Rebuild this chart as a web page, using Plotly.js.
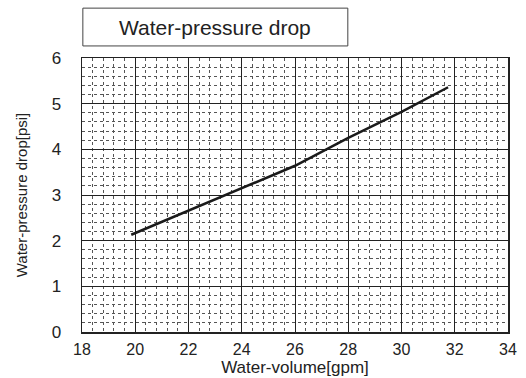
<!DOCTYPE html>
<html>
<head>
<meta charset="utf-8">
<script src="https://cdn.plot.ly/plotly-3.0.1.min.js"></script>
<style>html,body{margin:0;padding:0;background:#fff;}#chart{width:526px;height:378px;}</style>
</head>
<body>
<div id="chart"></div>
<script>
const waterVolume = [19.85, 22, 24, 26, 28, 30, 31.75];
const pressureDrop = [2.13, 2.66, 3.15, 3.64, 4.25, 4.82, 5.36];
const chartTitle = "Water-pressure drop";
const xTitle = "Water-volume[gpm]";
const yTitle = "Water-pressure drop[psi]";

const font = "Arial, 'Liberation Sans', sans-serif";

const trace = {
  x: waterVolume, y: pressureDrop, type: 'scatter', mode: 'lines',
  line: {color: '#1a1a1a', width: 2.5}, hoverinfo: 'skip', showlegend: false
};

const axisCommon = {
  showline: true, linecolor: '#222', linewidth: 1.5, mirror: true,
  showgrid: true, gridcolor: '#222', gridwidth: 1,
  zeroline: false, ticks: '', fixedrange: true,
  tickfont: {family: font, size: 17, color: '#222'}
};

const layout = {
  width: 526, height: 378,
  margin: {l: 82, r: 18, t: 58, b: 46},
  paper_bgcolor: '#fff', plot_bgcolor: '#fff',
  font: {family: font, color: '#222'},
  xaxis: Object.assign({}, axisCommon, {
    range: [18, 34], dtick: 2, tick0: 18,
    ticklabelstandoff: 2,
    tickfont: {family: font, size: 16, color: '#222'},
    minor: {dtick: 0.4, showgrid: true, gridcolor: '#555', gridwidth: 1, griddash: 'dot'},
    title: {text: xTitle, font: {family: font, size: 17, color: '#222'}, standoff: 2}
  }),
  yaxis: Object.assign({}, axisCommon, {
    range: [0, 6], dtick: 1, tick0: 0,
    ticklabelstandoff: 16,
    minor: {dtick: 0.2, showgrid: true, gridcolor: '#555', gridwidth: 1, griddash: 'dot'},
    title: {text: yTitle, font: {family: font, size: 15, color: '#222'}, standoff: 20}
  }),
  shapes: [{
    type: 'rect', xref: 'paper', yref: 'paper',
    x0: 0.002, x1: 0.624, y0: 1.044, y1: 1.182,
    line: {color: '#444', width: 1}, fillcolor: 'rgba(0,0,0,0)'
  }],
  annotations: [{
    xref: 'paper', yref: 'paper', x: 0.313, y: 1.113,
    xanchor: 'center', yanchor: 'middle', showarrow: false,
    text: chartTitle, font: {family: font, size: 21, color: '#222'}
  }]
};

Plotly.newPlot('chart', [trace], layout, {staticPlot: true, displayModeBar: false});
</script>
</body>
</html>
